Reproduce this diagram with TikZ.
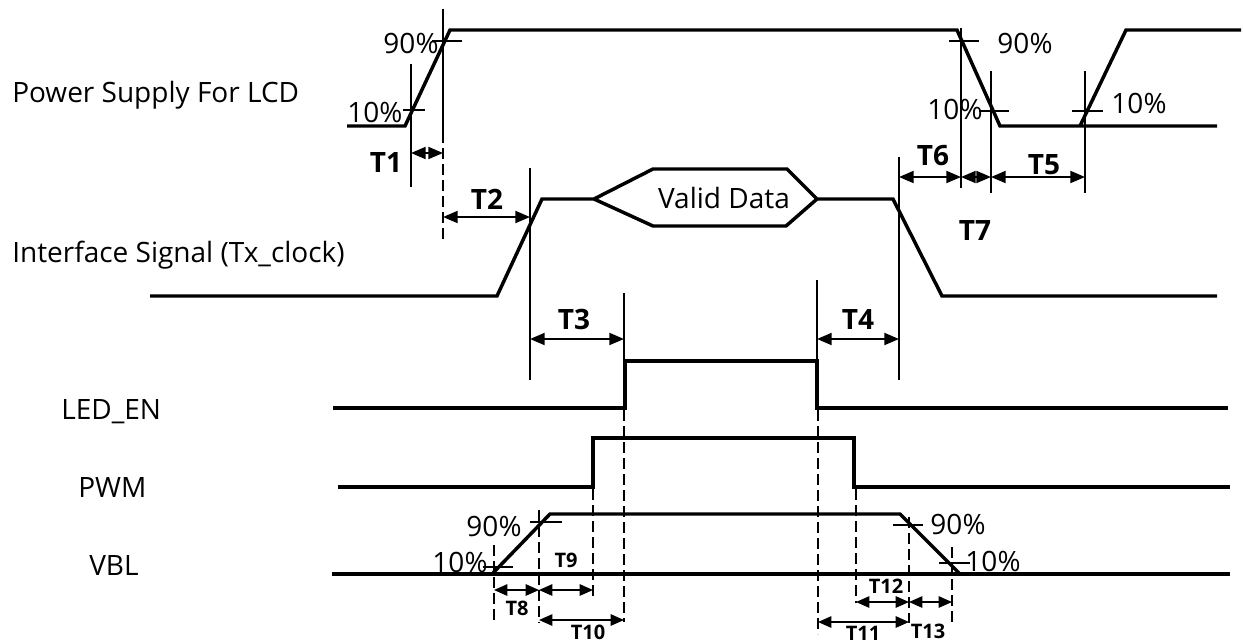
\documentclass[tikz,border=0pt]{standalone}
\usepackage{fontspec}
\setmainfont{Open Sans}
\usetikzlibrary{arrows.meta}
\begin{document}
\begin{tikzpicture}[x=0.75pt,y=-0.75pt,
  sig/.style={line width=2.6pt, line join=miter, miter limit=4},
  guide/.style={line width=0.8pt},
  dguide/.style={line width=0.9pt, dash pattern=on 8pt off 4pt},
  tick/.style={line width=0.8pt},
  dimarrow/.style={line width=1.4pt, {Triangle[length=11pt,width=9pt]}-{Triangle[length=11pt,width=9pt]}},
  sdimarrow/.style={line width=1.3pt, {Triangle[length=10pt,width=8.5pt]}-{Triangle[length=10pt,width=8.5pt]}},
  txt/.style={inner sep=0pt, font=\fontsize{21}{24}\selectfont},
  signame/.style={inner sep=0pt, anchor=base west, font=\fontsize{21}{24}\selectfont},
  tlbl/.style={inner sep=0pt, font=\fontsize{21}{24}\selectfont\bfseries},
  blbl/.style={inner sep=0pt, font=\fontsize{15}{18}\selectfont\bfseries}]
\useasboundingbox (0,0) rectangle (1243,643);

% signal names
\node[signame] (nPow) at (12,102) {Power Supply For LCD};
\node[signame] (nIf) at (12,262) {Interface Signal (Tx\_clock)};
\node[signame] (nLed) at (61,419) {LED\_EN};
\node[signame] (nPwm) at (78,497) {PWM};
\node[signame] (nVbl) at (89,575) {VBL};

% Power supply
\draw[sig] (347,126)--(405,126)--(450,30)--(957,30)--(1000,126)--(1217,126);
\draw[sig] (1080,126)--(1126,30)--(1241,30);
% Interface signal
\draw[sig] (150,296)--(497,296)--(542,199)--(594,199)--(653,169)--(787,169)--(817,199)--(893,199)--(942,296)--(1217,296);
\draw[sig] (594,199)--(653,226)--(786,226)--(817,199);
\node[txt] (vd) at (724,198) {Valid Data};
% LED_EN
\draw[sig] (333,408)--(625,408)--(625,361)--(817,361)--(817,408)--(1228,408);
% PWM
\draw[sig] (338,487)--(593,487)--(593,438)--(854,438)--(854,487)--(1230,487);
% VBL
\draw[sig] (332,574)--(1230,574);
\draw[sig] (492,574)--(550,514)--(900,514)--(960,574);

% ---- Power supply markers
\draw[tick] (403,110)--(425,110);
\draw[tick] (432,41)--(462,41);
\draw[guide] (411,64)--(411,187);
\draw[guide] (443,9)--(443,132);
\draw[dguide] (443,132)--(443,240);
\node[txt] (p10a) at (375,112) {10\%};
\node[txt] (p90a) at (411,43) {90\%};
\draw[dimarrow] (411,153)--(443,153);
\node[tlbl] (t1) at (386,163) {T1};
\draw[dimarrow] (443,217)--(530,217);
\node[tlbl] (t2) at (487,199) {T2};

\draw[tick] (949,41)--(979,41);
\draw[tick] (979,111)--(1009,111);
\draw[tick] (1072,111)--(1103,111);
\node[txt] (p90b) at (1025,43) {90\%};
\node[txt] (p10b) at (955,109) {10\%};
\node[txt] (p10c) at (1139,103) {10\%};
\draw[guide] (961,28)--(961,188);
\draw[guide] (991,71)--(991,193);
\draw[guide] (1085,71)--(1085,193);
\draw[guide] (899,157)--(899,380);
\draw[dimarrow] (899,177)--(961,177);
\node[tlbl] (t6) at (933,156) {T6};
\draw[dimarrow] (961,177)--(991,177);
\node[tlbl] (t7) at (975,231) {T7};
\draw[dimarrow] (991,177)--(1085,177);
\node[tlbl] (t5) at (1044,165) {T5};

% ---- Interface / LED_EN markers
\draw[guide] (530,168)--(530,380);
\draw[guide] (624,293)--(624,361);
\draw[guide] (817,280)--(817,361);
\draw[dimarrow] (530,339)--(624,339);
\node[tlbl] (t3) at (574,319) {T3};
\draw[dimarrow] (817,339)--(899,339);
\node[tlbl] (t4) at (858,319) {T4};

% ---- dashed drop lines
\draw[dguide] (624,410)--(624,622);
\draw[dguide] (818,410)--(818,634);
\draw[dguide] (593,489)--(593,600);
\draw[dguide] (856,489)--(856,603);

% ---- VBL markers
\draw[tick] (483,567)--(513,567);
\draw[tick] (530,522)--(562,522);
\draw[dguide] (494,545)--(494,621);
\draw[dguide] (539,510)--(539,623);
\node[txt] (v90a) at (494,526) {90\%};
\node[txt] (v10a) at (460,562) {10\%};
\draw[tick] (893,525)--(923,525);
\draw[tick] (939,563)--(970,563);
\draw[dguide] (909,517)--(909,623);
\draw[dguide] (952,547)--(952,623);
\node[txt] (v90b) at (958,524) {90\%};
\node[txt] (v10b) at (993,561) {10\%};

\draw[sdimarrow] (494,590)--(539,590);
\node[blbl] (t8) at (517,608) {T8};
\draw[sdimarrow] (539,590)--(593,590);
\node[blbl] (t9) at (566,560) {T9};
\draw[sdimarrow] (539,620)--(624,620);
\node[blbl] (t10) at (588,632) {T10};
\draw[sdimarrow] (818,622)--(909,622);
\node[blbl] (t11) at (863,633) {T11};
\draw[sdimarrow] (856,602)--(909,602);
\node[blbl] (t12) at (886,586) {T12};
\draw[sdimarrow] (909,602)--(952,602);
\node[blbl] (t13) at (928,631) {T13};
\end{tikzpicture}
\end{document}
